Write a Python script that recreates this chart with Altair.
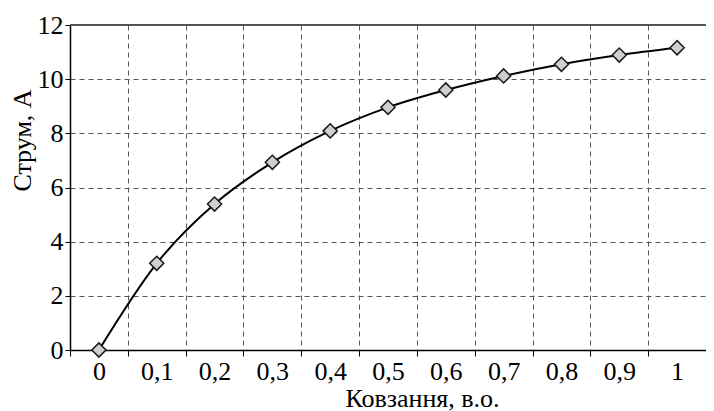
import altair as alt
import pandas as pd

categories = ["0", "0,1", "0,2", "0,3", "0,4", "0,5", "0,6", "0,7", "0,8", "0,9", "1"]
current = [0.0, 3.2, 5.39, 6.93, 8.09, 8.96, 9.6, 10.12, 10.55, 10.89, 11.16]

df = pd.DataFrame({"s": categories, "i": current})

FONT = "Liberation Serif"

common = dict(
    labelFont=FONT,
    titleFont=FONT,
    labelFontSize=26,
    titleFontSize=26,
    labelColor="#000000",
    titleColor="#000000",
    titleFontWeight="normal",
    grid=True,
    gridDash=[5, 4],
    gridColor="#555555",
    gridWidth=1,
    tickColor="#000000",
    domainColor="#000000",
    domainWidth=1.5,
)

x_enc = alt.X(
    "s:N",
    sort=categories,
    scale=alt.Scale(type="band", paddingInner=0, paddingOuter=0),
    bandPosition=0.5,
    axis=alt.Axis(
        title="Ковзання, в.о.",
        labelAngle=0,
        tickBand="extent",
        ticks=True,
        tickSize=6,
        labelPadding=2,
        titlePadding=1,
        titleX=352,
        titleAnchor="start",
        titleAlign="center",
        **common,
    ),
)
y_enc = alt.Y(
    "i:Q",
    scale=alt.Scale(domain=[0, 12], nice=False),
    axis=alt.Axis(
        title="Струм, А",
        values=[0, 2, 4, 6, 8, 10, 12],
        tickSize=5,
        labelPadding=2,
        titleX=-35,
        titleY=115,
        **common,
    ),
)

line = alt.Chart(df).mark_line(
    interpolate="monotone", color="#000000", strokeWidth=2
).encode(x=x_enc, y=y_enc)

points = alt.Chart(df).mark_point(
    shape="diamond", size=200, filled=True, fill="#cfcfcf", fillOpacity=1,
    stroke="#1a1a1a", strokeWidth=1.5, opacity=1
).encode(x=x_enc, y=y_enc)

# top border of the plot frame
top = alt.Chart(df).mark_rule(color="#555555", strokeWidth=1.2).encode(
    y=alt.value(0), x=alt.value(0), x2=alt.value(636)
)

chart = (
    alt.layer(line, points, top)
    .properties(
        width=636,
        height=325,
        autosize=alt.AutoSizeParams(type="none"),
        padding={"left": 62, "top": 17, "right": 0, "bottom": 62},
    )
    .configure_view(stroke=None)
)

chart.save("out.html", embed_options={"renderer": "svg", "actions": False})
